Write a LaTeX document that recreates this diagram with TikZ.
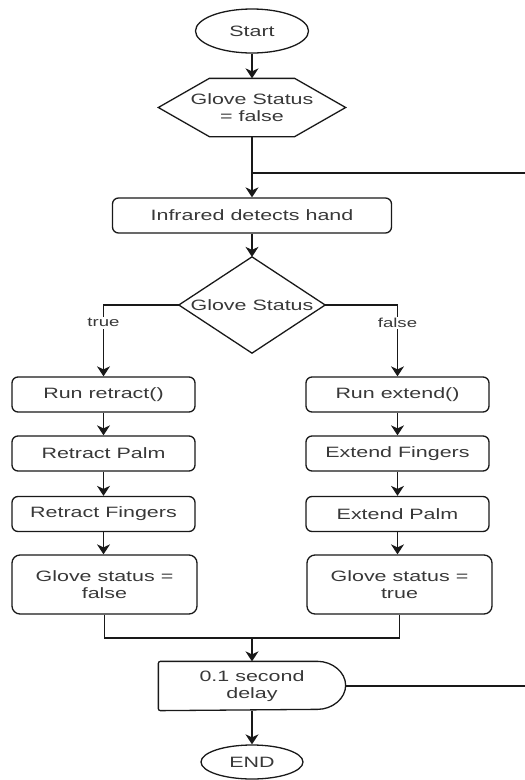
\documentclass[tikz,border=0pt]{standalone}
\usepackage{fontspec}
\setmainfont[FakeStretch=1.43]{Liberation Sans}
\usetikzlibrary{arrows.meta,shapes.geometric,calc}
\begin{document}
\begin{tikzpicture}[x=1pt,y=-1pt,
  line width=1.3pt, draw=black!90,
  every node/.style={font=\fontsize{15}{17}\selectfont, text=black!78, align=center, inner sep=0pt},
  proc/.style={draw, rounded corners=6pt, minimum height=35pt, minimum width=183pt},
  tall/.style={proc, rounded corners=8pt, minimum width=185pt, minimum height=59pt},
  term/.style={draw, ellipse},
  arr/.style={-{Stealth[length=10pt,width=13pt,inset=3pt]}},
  lbl/.style={fill=white, font=\fontsize{13}{15}\selectfont, inner sep=1.5pt}
]
\useasboundingbox (0,0) rectangle (525,780);

\node[term, minimum width=113pt, minimum height=44pt] (start) at (252,31) {Start};

\node[minimum width=186pt, minimum height=57pt] (hex) at (252,107.5) {Glove Status\\= false};
\draw (hex.west) -- ($(hex.north west)+(51,0)$) -- ($(hex.north east)+(-51,0)$) -- (hex.east)
  -- ($(hex.south east)+(-51,0)$) -- ($(hex.south west)+(51,0)$) -- cycle;

\node[proc, minimum width=279pt] (ir) at (252,215.5) {Infrared detects hand};

\node[minimum width=145pt, minimum height=95pt] (dia) at (252,305) {Glove Status};
\draw (dia.north) -- (dia.east) -- (dia.south) -- (dia.west) -- cycle;

\node[proc] (rr) at (103.5,394.5) {Run retract()};
\node[proc] (rp) at (103.5,453.5) {Retract Palm};
\node[proc] (rf) at (103.5,514) {Retract Fingers};
\node[tall] (gf) at (104.5,584.5) {Glove status =\\false};

\node[proc] (re) at (397.5,394.5) {Run extend()};
\node[proc] (ef) at (397.5,453.5) {Extend Fingers};
\node[proc] (ep) at (397.5,514) {Extend Palm};
\node[tall] (gt) at (399.5,584.5) {Glove status =\\true};

\node[minimum width=186pt, minimum height=48pt] (delay) at (252,686) {0.1 second\\delay};
\draw[rounded corners=2pt] (delay.south west) -- (delay.north west) -- ($(delay.north east)+(-30,0)$)
  arc[start angle=90, end angle=-90, x radius=30pt, y radius=24pt] -- cycle;

\node[term, minimum width=102pt, minimum height=34pt] (end) at (252,762) {END};

\coordinate (m) at (252,638);
\coordinate (lj) at (252,173);
\coordinate (lr1) at (528,686);
\coordinate (lr2) at (528,173);

\draw[arr] (start) -- (hex.north);
\draw[arr] (hex.south) -- (ir.north);
\draw (delay.east) -- (lr1) -- (lr2) -- (lj);
\draw[arr] (ir) -- (dia.north);
\draw[arr] (dia.west) -| node[lbl, pos=0.625] {true} (rr.north);
\draw[arr] (dia.east) -| node[lbl, pos=0.625] {false} (re.north);
\draw[arr] (rr) -- (rp);
\draw[arr] (rp) -- (rf);
\draw[arr] (rf.south) -- (rf.south |- gf.north);
\draw[arr] (re) -- (ef);
\draw[arr] (ef) -- (ep);
\draw[arr] (ep.south) -- (ep.south |- gt.north);
\draw (gf.south) |- (m);
\draw (gt.south) |- (m);
\draw[arr] (m) -- (delay.north);
\draw[arr] (delay.south) -- (end);
\end{tikzpicture}
\end{document}
